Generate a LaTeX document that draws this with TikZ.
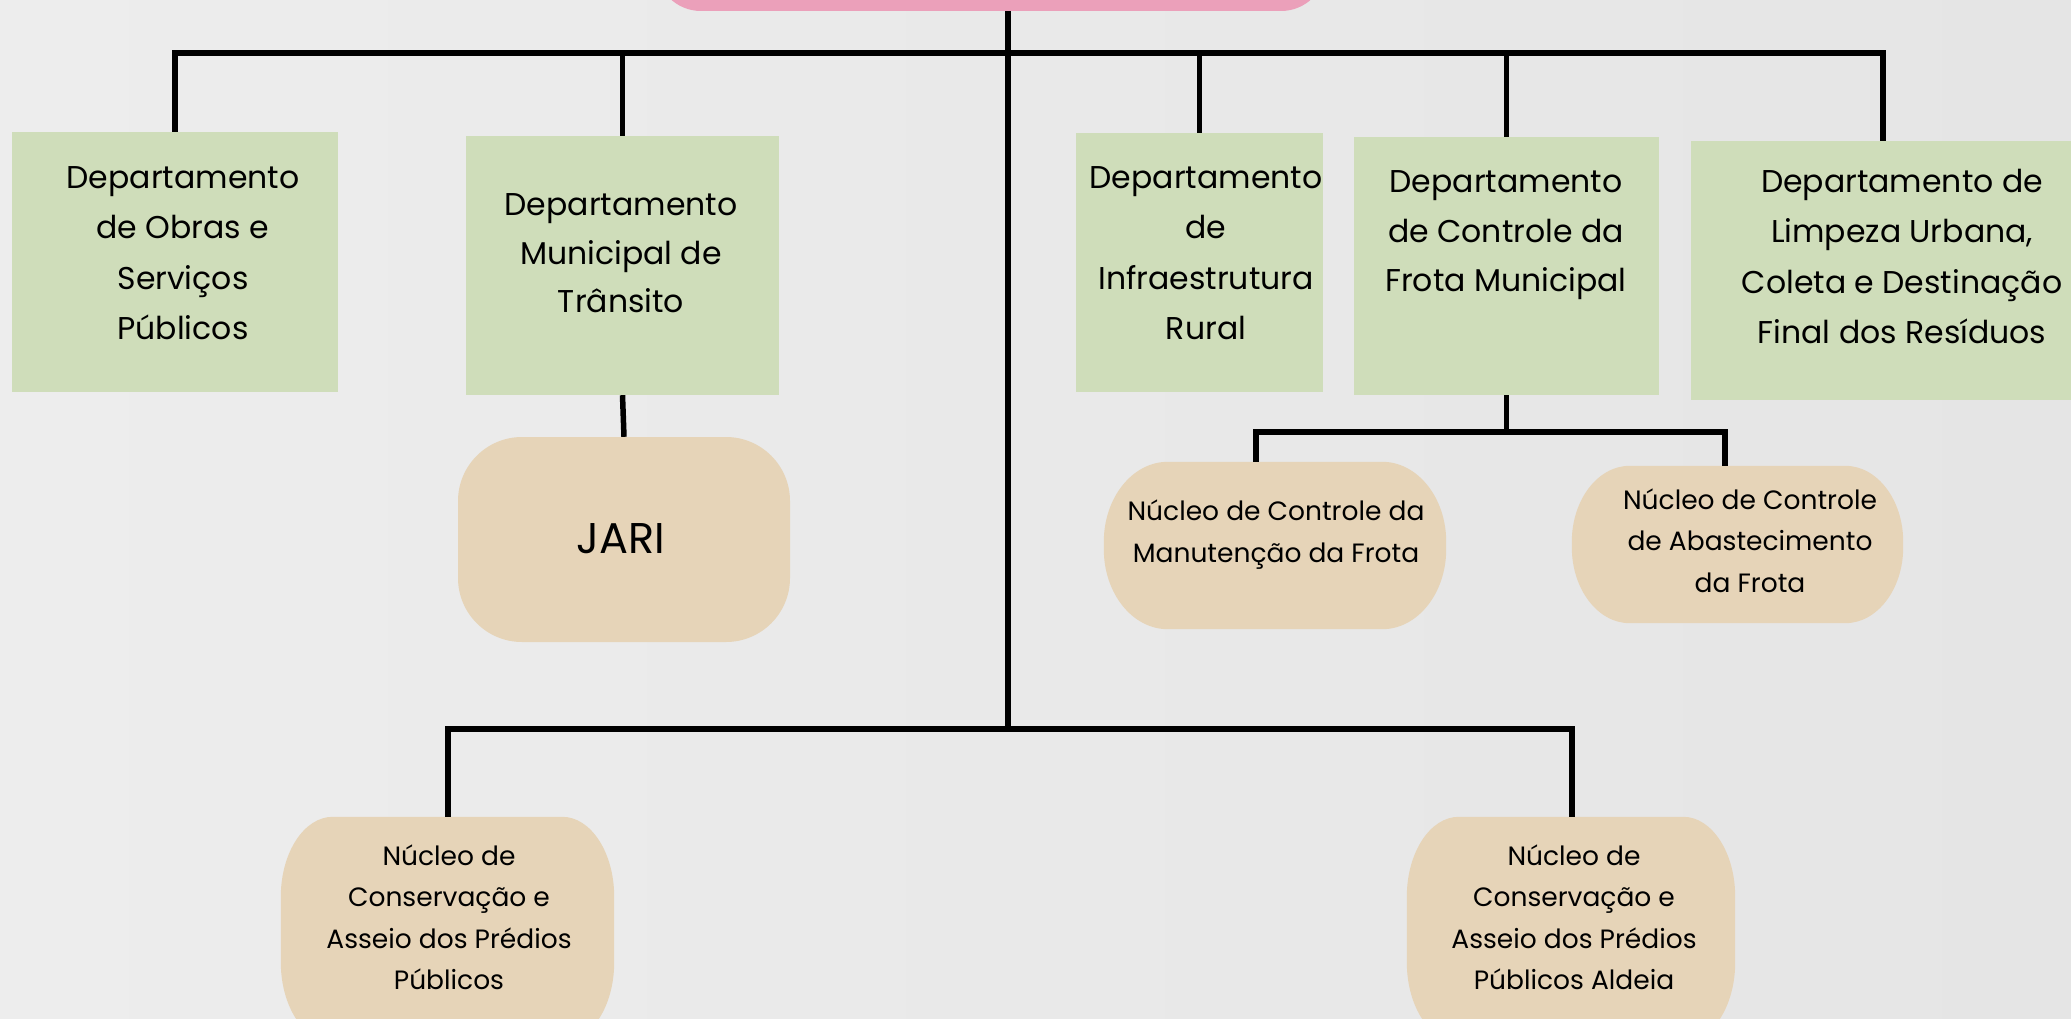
\documentclass[tikz,border=0pt]{standalone}
\usepackage{fontspec}
\setmainfont{Poppins}
\definecolor{bgleft}{RGB}{237,237,237}
\definecolor{bgright}{RGB}{229,229,229}
\definecolor{deptgreen}{RGB}{207,221,186}
\definecolor{nucbeige}{RGB}{230,212,184}
\definecolor{toppink}{RGB}{235,160,186}
\tikzset{
  conn/.style={line width=5.5pt, black},
  deptbox/.style={fill=deptgreen, draw=none, inner sep=0pt},
  nucbox/.style={fill=nucbeige, draw=none, inner sep=0pt},
  ovalframe/.style={draw=none, inner sep=0pt},
  depttext/.style={align=center, inner sep=0pt, font=\fontsize{31.5}{50.5}\selectfont},
  nuctext/.style={align=center, inner sep=0pt, font=\fontsize{26.5}{41.5}\selectfont},
}
% fill an oval box round a named node: node, x radius, y radius (in pt)
\newcommand\ovalfill[3]{%
  \fill[nucbeige]
    ([xshift={#2*1pt}]#1.north west) -- ([xshift={-#2*1pt}]#1.north east)
    .. controls ([xshift={-0.4477*#2*1pt}]#1.north east) and ([yshift={-0.4477*#3*1pt}]#1.north east) .. ([yshift={-#3*1pt}]#1.north east)
    -- ([yshift={#3*1pt}]#1.south east)
    .. controls ([yshift={0.4477*#3*1pt}]#1.south east) and ([xshift={-0.4477*#2*1pt}]#1.south east) .. ([xshift={-#2*1pt}]#1.south east)
    -- ([xshift={#2*1pt}]#1.south west)
    .. controls ([xshift={0.4477*#2*1pt}]#1.south west) and ([yshift={0.4477*#3*1pt}]#1.south west) .. ([yshift={#3*1pt}]#1.south west)
    -- ([yshift={-#3*1pt}]#1.north west)
    .. controls ([yshift={-0.4477*#3*1pt}]#1.north west) and ([xshift={0.4477*#2*1pt}]#1.north west) .. ([xshift={#2*1pt}]#1.north west)
    -- cycle;}
\begin{document}
\begin{tikzpicture}[x=1pt,y=-1pt]
\path[use as bounding box, left color=bgleft, right color=bgright] (0,0) rectangle (2071,1019);
\clip (0,0) rectangle (2071,1019);

% top box
\node[fill=toppink, rounded corners=45pt, minimum width=670pt, minimum height=91pt, inner sep=0pt] (top) at (991,-34.5) {};

% departments
\node[deptbox, minimum width=326pt, minimum height=260pt] (d1) at (175,262) {};
\node[deptbox, minimum width=313pt, minimum height=259pt] (d2) at (622.5,265.5) {};
\node[deptbox, minimum width=247pt, minimum height=259pt] (d3) at (1199.5,262.5) {};
\node[deptbox, minimum width=305pt, minimum height=258pt] (d4) at (1506.5,266) {};
\node[deptbox, minimum width=384pt, minimum height=259pt] (d5) at (1883,270.5) {};

% nuclei
\node[nucbox, rounded corners=64pt, minimum width=332pt, minimum height=205pt] (jari) at (624,539.5) {};
\node[ovalframe, minimum width=342pt, minimum height=167pt] (n1) at (1275,545.5) {};
\ovalfill{n1}{64}{80}
\node[ovalframe, minimum width=331pt, minimum height=157pt] (n2) at (1737.5,544.5) {};
\ovalfill{n2}{58}{76}
\node[ovalframe, minimum width=333pt, minimum height=225pt] (b1) at (447.5,929.5) {};
\ovalfill{b1}{52}{80}
\node[ovalframe, minimum width=328pt, minimum height=225pt] (b2) at (1571,929.5) {};
\ovalfill{b2}{52}{80}

% texts
\node[depttext] (t1) at (183,253) {Departamento\\de Obras e\\Serviços\\Públicos};
\node[depttext, font=\fontsize{31.5}{48.5}\selectfont] (t2) at (621,253.5) {Departamento\\Municipal de\\Trânsito};
\node[depttext] (t3) at (1206,253) {Departamento\\de\\Infraestrutura\\Rural};
\node[depttext, font=\fontsize{31.5}{49.5}\selectfont] (t4) at (1506,235.5) {Departamento\\de Controle da\\Frota Municipal};
\node[depttext] (t5) at (1902,256.5) {Departamento de\\Limpeza Urbana,\\Coleta e Destinação\\Final dos Resíduos};
\node[inner sep=0pt, font=\fontsize{43}{50}\selectfont] (tj) at (621,539) {JARI};
\node[nuctext, font=\fontsize{26.5}{42}\selectfont] (tn1) at (1276,535) {Núcleo de Controle da\\Manutenção da Frota};
\node[nuctext] (tn2) at (1750,540.5) {Núcleo de Controle\\de Abastecimento\\da Frota};
\node[nuctext] (tb1) at (449,917) {Núcleo de\\Conservação e\\Asseio dos Prédios\\Públicos};
\node[nuctext] (tb2) at (1574,917) {Núcleo de\\Conservação e\\Asseio dos Prédios\\Públicos Aldeia};

% connectors
\coordinate (bus) at (0,53);
\coordinate (hub) at (1008,53);
\coordinate (low) at (1008,729);
\coordinate (lowL) at (448,729);
\coordinate (lowR) at (1572,729);
\coordinate (f1) at (1256,432);
\coordinate (f2) at (1725,432);

\draw[conn] (d1.north) |- (d5.north |- bus) -- (d5.north);
\draw[conn] (d2.north) -- (d2.north |- bus);
\draw[conn] (d3.north) -- (d3.north |- bus);
\draw[conn] (d4.north) -- (d4.north |- bus);
\draw[conn] (top.south -| hub) -- (low);
\draw[conn] (lowL |- b1.north) -- (lowL) -- (lowR) -- (lowR |- b2.north);
\draw[conn] (d2.south) -- (jari.north);
\draw[conn] (d4.south) -- (d4.south |- f1);
\draw[conn] (f1 |- n1.north) -- (f1) -- (f2) -- (f2 |- n2.north);
\end{tikzpicture}
\end{document}
